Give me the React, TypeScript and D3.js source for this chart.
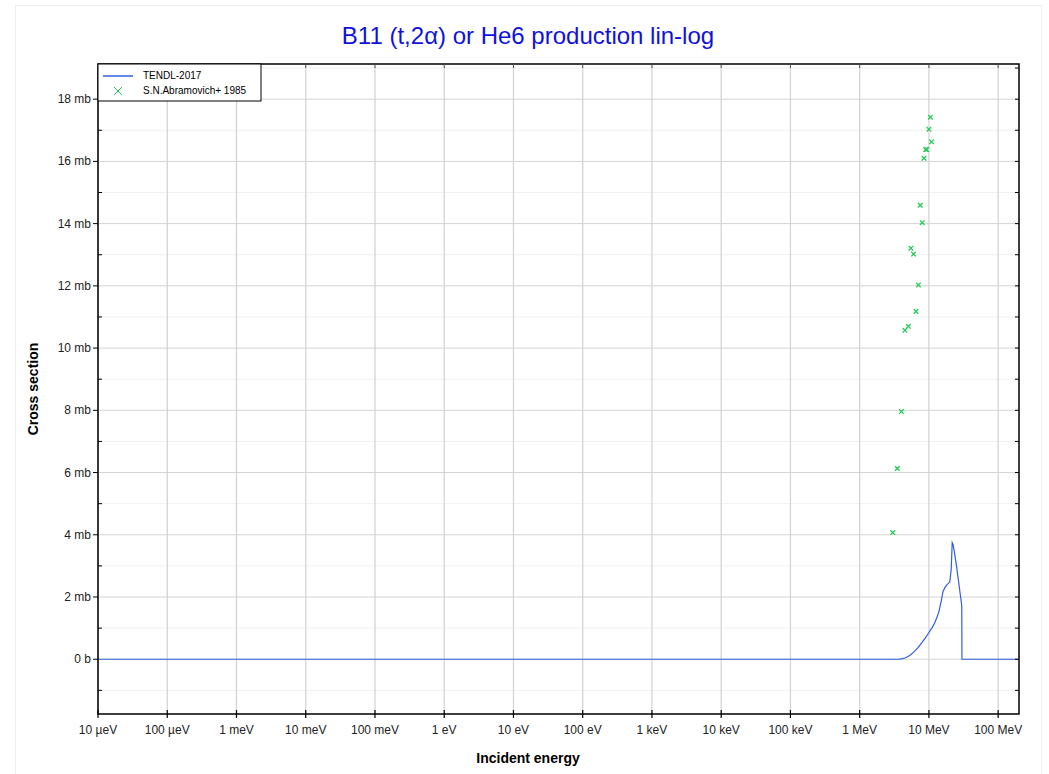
import { useEffect, useRef } from "react";
import * as d3 from "d3";

// TENDL-2017 evaluated curve (energy in eV, cross section in mb)
const tendlE = [
  1e-5, 1e5, 1e6, 3.6e6, 4e6, 4.5e6, 5e6, 5.5e6, 6e6, 7e6, 8e6, 9e6, 10e6,
  11e6, 12e6, 13e6, 14e6, 15e6, 16e6, 17e6, 18e6, 20e6, 21e6, 21.7e6,
  22.3e6, 23.5e6, 25e6, 27e6, 29.8e6, 30e6, 50e6, 2e8,
];
const tendlXS = [
  0, 0, 0, 0, 0.01, 0.04, 0.09, 0.15, 0.22, 0.38, 0.55, 0.7, 0.86, 1.0,
  1.15, 1.33, 1.55, 1.85, 2.18, 2.3, 2.38, 2.48, 2.9, 3.75, 3.7, 3.4, 3.0,
  2.45, 1.72, 0, 0, 0,
];

// S.N.Abramovich+ 1985 experimental points
const expE = [
  3.0e6, 3.5e6, 4.0e6, 4.5e6, 5.05e6, 5.5e6, 6.0e6, 6.5e6, 7.05e6, 7.5e6,
  8.0e6, 8.5e6, 9.0e6, 9.3e6, 10.0e6, 10.5e6, 10.9e6,
];
const expXS = [
  4.07, 6.13, 7.96, 10.57, 10.7, 13.21, 13.02, 11.18, 12.03, 14.59, 14.03,
  16.1, 16.38, 16.38, 17.03, 17.42, 16.63,
];

const xTickValues = [1e-5, 1e-4, 1e-3, 1e-2, 1e-1, 1, 10, 100, 1e3, 1e4, 1e5, 1e6, 1e7, 1e8];
const xTickLabels = [
  "10 µeV", "100 µeV", "1 meV", "10 meV", "100 meV", "1 eV", "10 eV",
  "100 eV", "1 keV", "10 keV", "100 keV", "1 MeV", "10 MeV", "100 MeV",
];
const yMajor = [0, 2, 4, 6, 8, 10, 12, 14, 16, 18];
const yMinor = [-1, 1, 3, 5, 7, 9, 11, 13, 15, 17, 19];

export default function App() {
  const svgRef = useRef<SVGSVGElement>(null);

  useEffect(() => {
    if (!svgRef.current) return;
    const svg = d3.select(svgRef.current);
    svg.selectAll("*").remove();

    const margin = { top: 64, right: 1019, bottom: 714, left: 98 };
    const x = d3
      .scaleLog()
      .domain([1e-5, 2e8])
      .range([margin.left, margin.right]);
    const y = d3
      .scaleLinear()
      .domain([-1.76, 19.13])
      .range([margin.bottom, margin.top]);

    // outer frame
    svg
      .append("rect")
      .attr("x", 15.5)
      .attr("y", 5.5)
      .attr("width", 1026)
      .attr("height", 780)
      .attr("fill", "white")
      .attr("stroke", "#eeeeee");

    // grid
    const grid = svg.append("g");
    grid
      .selectAll("line.minor")
      .data(yMinor)
      .enter()
      .append("line")
      .attr("x1", margin.left)
      .attr("x2", margin.right)
      .attr("y1", (d) => y(d))
      .attr("y2", (d) => y(d))
      .attr("stroke", "#f0f0f0")
      .attr("stroke-width", 1);
    grid
      .selectAll("line.major")
      .data(yMajor)
      .enter()
      .append("line")
      .attr("x1", margin.left)
      .attr("x2", margin.right)
      .attr("y1", (d) => y(d))
      .attr("y2", (d) => y(d))
      .attr("stroke", "#d4d4d4")
      .attr("stroke-width", 1);
    grid
      .selectAll("line.vert")
      .data(xTickValues)
      .enter()
      .append("line")
      .attr("x1", (d) => x(d))
      .attr("x2", (d) => x(d))
      .attr("y1", margin.top)
      .attr("y2", margin.bottom)
      .attr("stroke", "#d4d4d4")
      .attr("stroke-width", 1.3);

    // curve
    const line = d3
      .line<number>()
      .x((_, i) => x(tendlE[i]))
      .y((d) => y(d));
    svg
      .append("path")
      .attr("d", line(tendlXS))
      .attr("fill", "none")
      .attr("stroke", "#3060e0")
      .attr("stroke-width", 1.2);

    // experimental points
    const marks = svg.append("g");
    expXS.forEach((v, i) => {
      const cx = x(expE[i]);
      const cy = y(v);
      const s = 2.3;
      marks
        .append("path")
        .attr("d", `M${cx - s},${cy - s}L${cx + s},${cy + s}M${cx - s},${cy + s}L${cx + s},${cy - s}`)
        .attr("stroke", "#22cc55")
        .attr("stroke-width", 1.3)
        .attr("fill", "none");
    });

    // axes frame
    const frame = svg.append("g").attr("stroke", "black");
    frame
      .append("rect")
      .attr("x", margin.left)
      .attr("y", margin.top)
      .attr("width", margin.right - margin.left)
      .attr("height", margin.bottom - margin.top)
      .attr("fill", "none")
      .attr("stroke-width", 1.5);

    // x ticks
    xTickValues.forEach((v) => {
      const px = x(v);
      frame.append("line").attr("x1", px).attr("x2", px).attr("y1", margin.bottom - 4).attr("y2", margin.bottom + 4).attr("stroke-width", 1.2);
      frame.append("line").attr("x1", px).attr("x2", px).attr("y1", margin.top).attr("y2", margin.top + 4).attr("stroke", "#555");
    });
    // y ticks
    yMajor.forEach((v) => {
      const py = y(v);
      frame.append("line").attr("x1", margin.left - 5).attr("x2", margin.left).attr("y1", py).attr("y2", py);
      frame.append("line").attr("x1", margin.right - 4).attr("x2", margin.right).attr("y1", py).attr("y2", py);
    });
    yMinor.forEach((v) => {
      const py = y(v);
      frame.append("line").attr("x1", margin.left).attr("x2", margin.left + 4).attr("y1", py).attr("y2", py);
      frame.append("line").attr("x1", margin.right - 4).attr("x2", margin.right).attr("y1", py).attr("y2", py);
    });

    const font = "Liberation Sans, Arial, sans-serif";
    // tick labels
    svg
      .append("g")
      .selectAll("text")
      .data(xTickValues)
      .enter()
      .append("text")
      .attr("x", (d) => x(d))
      .attr("y", margin.bottom + 20)
      .attr("text-anchor", "middle")
      .attr("font-family", font)
      .attr("font-size", 12)
      .attr("fill", "#222")
      .text((_, i) => xTickLabels[i]);
    svg
      .append("g")
      .selectAll("text")
      .data(yMajor)
      .enter()
      .append("text")
      .attr("x", margin.left - 7)
      .attr("y", (d) => y(d) + 4)
      .attr("text-anchor", "end")
      .attr("font-family", font)
      .attr("font-size", 12)
      .attr("fill", "#222")
      .text((d) => (d === 0 ? "0 b" : `${d} mb`));

    // title and axis labels
    const centerX = 528;
    svg
      .append("text")
      .attr("x", centerX)
      .attr("y", 44)
      .attr("text-anchor", "middle")
      .attr("font-family", font)
      .attr("font-size", 24)
      .attr("fill", "#1111dd")
      .text("B11 (t,2α) or He6 production lin-log");
    svg
      .append("text")
      .attr("x", centerX)
      .attr("y", 763)
      .attr("text-anchor", "middle")
      .attr("font-family", font)
      .attr("font-size", 14)
      .attr("font-weight", "bold")
      .text("Incident energy");
    svg
      .append("text")
      .attr("transform", `translate(38,${(margin.top + margin.bottom) / 2}) rotate(-90)`)
      .attr("text-anchor", "middle")
      .attr("font-family", font)
      .attr("font-size", 14)
      .attr("font-weight", "bold")
      .text("Cross section");

    // legend
    const lg = svg.append("g");
    lg.append("rect")
      .attr("x", margin.left)
      .attr("y", margin.top)
      .attr("width", 163)
      .attr("height", 37)
      .attr("fill", "white")
      .attr("stroke", "black")
      .attr("stroke-width", 1);
    lg.append("line")
      .attr("x1", 103)
      .attr("x2", 133)
      .attr("y1", 76)
      .attr("y2", 76)
      .attr("stroke", "#3060e0")
      .attr("stroke-width", 1.5);
    lg.append("path")
      .attr("d", "M114,87L122,95M114,95L122,87")
      .attr("stroke", "#22cc55")
      .attr("stroke-width", 1);
    lg.append("text")
      .attr("x", 143)
      .attr("y", 79)
      .attr("font-family", font)
      .attr("font-size", 10)
      .text("TENDL-2017");
    lg.append("text")
      .attr("x", 143)
      .attr("y", 94)
      .attr("font-family", font)
      .attr("font-size", 10)
      .text("S.N.Abramovich+ 1985");
  }, []);

  return (
    <svg
      ref={svgRef}
      width={1049}
      height={774}
      style={{ position: "absolute", left: 0, top: 0 }}
    />
  );
}
